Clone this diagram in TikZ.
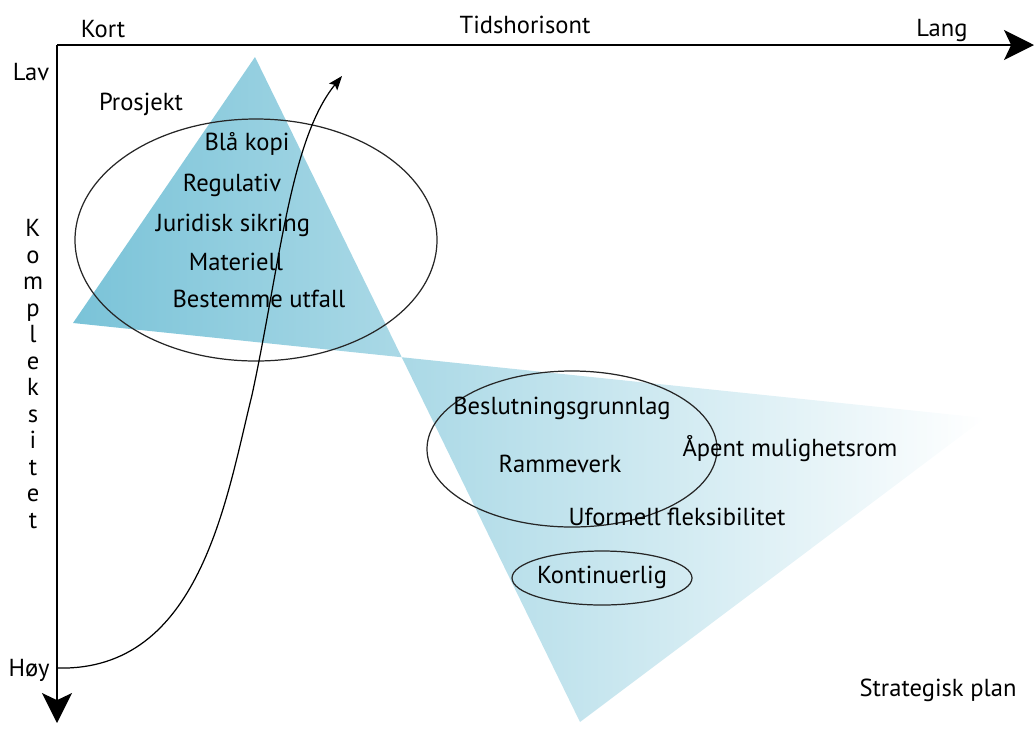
\documentclass[tikz,border=0pt]{standalone}
\usepackage{fontspec}
\setmainfont{PT Sans}
\usetikzlibrary{arrows.meta}
\definecolor{wedgedark}{RGB}{122,195,216}
\definecolor{wedgemid}{RGB}{200,232,241}
\tikzset{
  lbl/.style={font=\fontsize{14}{16}\selectfont, inner sep=0pt},
  axis/.style={line width=1.6pt, -{Stealth[length=17pt, width=17pt, inset=4pt]}},
  ring/.style={draw=black!85, line width=0.7pt},
  path arrow/.style={line width=0.7pt, -{Stealth[length=8pt, width=6pt, inset=1.5pt]}},
  wedge/.style={left color=wedgedark, middle color=wedgemid, right color=white, draw=none}
}
\begin{document}
\begin{tikzpicture}[x=0.02cm, y=-0.02cm]
  \useasboundingbox (0,0) rectangle (1035,728);

  % bow-tie wedge: planning funnel
  \coordinate (apex) at (255,57);
  \coordinate (wl) at (73,323);
  \coordinate (wr) at (985,418);
  \coordinate (wb) at (580,722);
  \shade[wedge] (apex) -- (wb) -- (wr) -- (wl) -- cycle;

  % axes
  \coordinate (o) at (57,45);
  \coordinate (xend) at (1034,45);
  \coordinate (yend) at (57,723);
  \draw[axis] (o) -- (xend);
  \draw[axis] (o) -- (yend);

  \node[lbl] (kort) at (103,29) {Kort};
  \node[lbl] (tid) at (525,25) {Tidshorisont};
  \node[lbl] (lang) at (942,30) {Lang};
  \node[lbl] (lav) at (31,72) {Lav};
  \node[lbl] (hoy) at (29,670) {Høy};
  \node[lbl, align=center, font=\fontsize{14}{15.1}\selectfont] (kompl) at (33,374)
    {K\\o\\m\\p\\l\\e\\k\\s\\i\\t\\e\\t};

  % project cluster
  \coordinate (c1) at (256,240);
  \draw[ring] (c1) ellipse [x radius=181, y radius=121];
  \node[lbl] (prosjekt) at (141,104) {Prosjekt};
  \node[lbl] (bla) at (247,144) {Blå kopi};
  \node[lbl] (reg) at (232,185) {Regulativ};
  \node[lbl] (jur) at (233,225) {Juridisk sikring};
  \node[lbl] (mat) at (236,262) {Materiell};
  \node[lbl] (best) at (259,299) {Bestemme utfall};

  % strategic cluster
  \coordinate (c2) at (572,449);
  \draw[ring] (c2) ellipse [x radius=145, y radius=78];
  \coordinate (c3) at (602,578);
  \draw[ring] (c3) ellipse [x radius=90, y radius=27];
  \node[lbl] (beslut) at (562,408) {Beslutningsgrunnlag};
  \node[lbl] (ramme) at (560,464) {Rammeverk};
  \node[lbl] (apent) at (790,449) {Åpent mulighetsrom};
  \node[lbl] (uform) at (677,517) {Uformell fleksibilitet};
  \node[lbl] (kont) at (602,577) {Kontinuerlig};
  \node[lbl] (strat) at (938,690) {Strategisk plan};

  % development path from high to low complexity
  \coordinate (pstart) at (57,668);
  \coordinate (pmid) at (252,395);
  \coordinate (pend) at (342,76);
  \draw[path arrow] (pstart) .. controls (200,672) and (226,500) .. (pmid)
    .. controls (280,265) and (290,140) .. (pend);
\end{tikzpicture}
\end{document}
